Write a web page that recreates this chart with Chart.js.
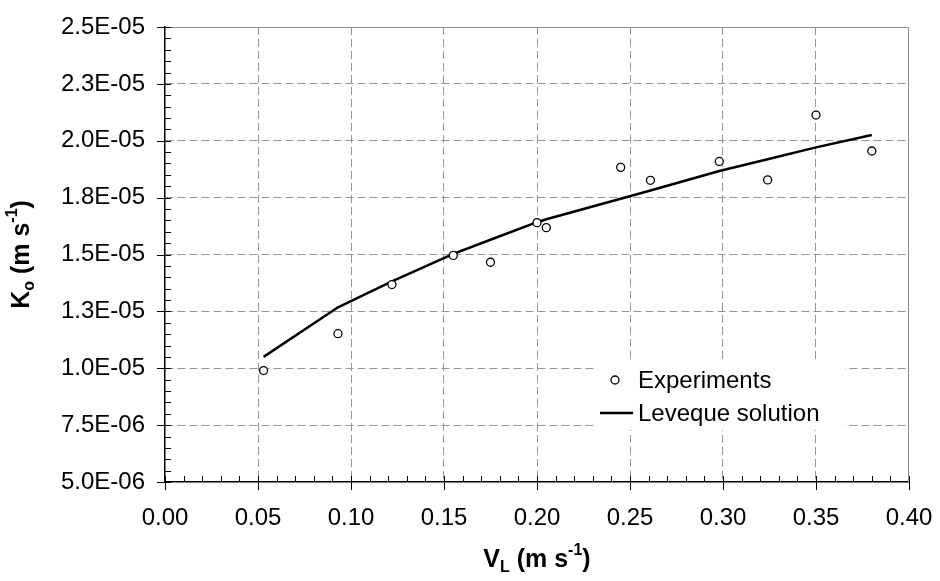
<!DOCTYPE html>
<html>
<head>
<meta charset="utf-8">
<script src="https://cdn.jsdelivr.net/npm/chart.js@4/dist/chart.umd.min.js"></script>
<style>
  body { margin: 0; background: #fff; }
  #wrap { width: 940px; height: 581px; }
</style>
</head>
<body>
<div id="wrap"><canvas id="myChart" width="940" height="581"></canvas></div>
<script>
// liquid velocity (m/s)
const velocity = [0.053, 0.093, 0.122, 0.155, 0.175, 0.200, 0.205, 0.245, 0.261, 0.298, 0.324, 0.350, 0.380];
// measured mass transfer coefficient
const koExperiments = [9.9e-6, 1.152e-5, 1.368e-5, 1.496e-5, 1.466e-5, 1.640e-5, 1.618e-5, 1.883e-5, 1.826e-5, 1.909e-5, 1.828e-5, 2.113e-5, 1.955e-5];
// Leveque solution at the same velocities
const koLeveque = [1.050e-5, 1.268e-5, 1.382e-5, 1.503e-5, 1.565e-5, 1.642e-5, 1.655e-5, 1.745e-5, 1.781e-5, 1.867e-5, 1.919e-5, 1.971e-5, 2.025e-5];

const xTicks = [0.00, 0.05, 0.10, 0.15, 0.20, 0.25, 0.30, 0.35, 0.40];
const yTicks = [5.0e-6, 7.5e-6, 1.0e-5, 1.25e-5, 1.5e-5, 1.75e-5, 2.0e-5, 2.25e-5, 2.5e-5];
const yTickLabels = ['5.0E-06', '7.5E-06', '1.0E-05', '1.3E-05', '1.5E-05', '1.8E-05', '2.0E-05', '2.3E-05', '2.5E-05'];
const legendLabels = ['Experiments', 'Leveque solution'];

const FONT = "'Liberation Sans', Arial, sans-serif";
const ctx = document.getElementById('myChart').getContext('2d');

// draws "V_L (m s^-1)" style text, centred on (cx, cy)
function drawRich(c, parts, cx, cy) {
  let width = 0;
  parts.forEach((p) => {
    c.font = `bold ${p.s ? 16 : 25}px ${FONT}`;
    width += c.measureText(p.t).width;
  });
  let x = cx - width / 2;
  c.textBaseline = 'middle';
  c.textAlign = 'left';
  parts.forEach((p) => {
    c.font = `bold ${p.s ? 16 : 25}px ${FONT}`;
    const dy = p.s === 'sub' ? 8 : (p.s === 'sup' ? -9 : 0);
    c.fillText(p.t, x, cy + dy);
    x += c.measureText(p.t).width;
  });
}

const extras = {
  id: 'extras',
  beforeDatasetsDraw(chart) {
    const { ctx: c, chartArea: a } = chart;
    // grey frame on top and right
    c.save();
    c.strokeStyle = '#8c8c8c';
    c.lineWidth = 1;
    c.beginPath();
    c.moveTo(a.left, a.top + 0.5);
    c.lineTo(a.right - 0.5, a.top + 0.5);
    c.lineTo(a.right - 0.5, a.bottom);
    c.stroke();
    c.restore();
  },
  afterDraw(chart) {
    const { ctx: c, chartArea: a, scales: { x, y } } = chart;
    c.save();
    c.strokeStyle = '#000';
    c.lineWidth = 1;
    c.beginPath();
    // major ticks cross the axis, minor ticks point inward
    for (let i = 0; i < xTicks.length; i++) {
      const px = Math.round(x.getPixelForValue(xTicks[i])) + 0.5;
      c.moveTo(px, a.bottom - 6);
      c.lineTo(px, a.bottom + 8);
      if (i < xTicks.length - 1) {
        for (let k = 1; k < 5; k++) {
          const v = xTicks[i] + (xTicks[i + 1] - xTicks[i]) * k / 5;
          const mx = Math.round(x.getPixelForValue(v)) + 0.5;
          c.moveTo(mx, a.bottom);
          c.lineTo(mx, a.bottom - 6);
        }
      }
    }
    for (let i = 0; i < yTicks.length; i++) {
      const py = Math.round(y.getPixelForValue(yTicks[i])) + 0.5;
      c.moveTo(a.left - 8, py);
      c.lineTo(a.left + 6, py);
      if (i < yTicks.length - 1) {
        for (let k = 1; k < 5; k++) {
          const v = yTicks[i] + (yTicks[i + 1] - yTicks[i]) * k / 5;
          const my = Math.round(y.getPixelForValue(v)) + 0.5;
          c.moveTo(a.left, my);
          c.lineTo(a.left + 6, my);
        }
      }
    }
    c.stroke();

    // legend
    c.fillStyle = '#fff';
    c.fillRect(597, 362, 248, 68);
    c.beginPath();
    c.arc(615, 380, 4, 0, Math.PI * 2);
    c.fillStyle = '#fff';
    c.fill();
    c.lineWidth = 1.3;
    c.stroke();
    c.beginPath();
    c.lineWidth = 2.5;
    c.moveTo(600, 413);
    c.lineTo(633, 413);
    c.stroke();
    c.fillStyle = '#000';
    c.font = `24px ${FONT}`;
    c.textBaseline = 'middle';
    c.textAlign = 'left';
    c.fillText(legendLabels[0], 638, 381);
    c.fillText(legendLabels[1], 638, 414);

    // axis titles
    drawRich(c, [{ t: 'V' }, { t: 'L', s: 'sub' }, { t: ' (m s' }, { t: '-1', s: 'sup' }, { t: ')' }],
      (a.left + a.right) / 2, 560);
    c.translate(22, (a.top + a.bottom) / 2);
    c.rotate(-Math.PI / 2);
    drawRich(c, [{ t: 'K' }, { t: 'o', s: 'sub' }, { t: ' (m s' }, { t: '-1', s: 'sup' }, { t: ')' }], 0, 0);
    c.restore();
  },
};

function edgeColor(context) {
  const n = context.chart ? context.scale.ticks.length : 0;
  if (context.index === 0 || context.index === n - 1) return 'rgba(0,0,0,0)';
  return '#959595';
}

const chart = new Chart(ctx, {
  type: 'scatter',
  data: {
    datasets: [{
      label: legendLabels[0],
      data: velocity.map((v, i) => ({ x: v, y: koExperiments[i] })),
      pointRadius: 4,
      pointBackgroundColor: '#fff',
      pointBorderColor: '#000',
      pointBorderWidth: 1.3,
      showLine: false,
    }, {
      label: legendLabels[1],
      data: velocity.map((v, i) => ({ x: v, y: koLeveque[i] })),
      showLine: true,
      borderColor: '#000',
      borderWidth: 2.5,
      pointRadius: 0,
      tension: 0,
    }],
  },
  options: {
    responsive: false,
    animation: false,
    devicePixelRatio: 1,
    layout: { padding: { left: 0, top: 27, right: 31, bottom: 0 } },
    plugins: { legend: { display: false }, tooltip: { enabled: false } },
    scales: {
      x: {
        min: 0,
        max: 0.4,
        afterFit: (s) => { s.height = 99; s.paddingLeft = 0; s.paddingRight = 0; },
        afterBuildTicks: (s) => { s.ticks = xTicks.map((v) => ({ value: v })); },
        ticks: {
          color: '#000',
          padding: 22,
          maxRotation: 0,
          font: { family: FONT, size: 24 },
          callback: (v) => Number(v).toFixed(2),
        },
        grid: { color: edgeColor, lineWidth: 1, drawTicks: false },
        border: { color: '#000', width: 1.5, dash: [8, 4] },
      },
      y: {
        min: 5e-6,
        max: 2.5e-5,
        afterFit: (s) => { s.width = 165; s.paddingTop = 0; s.paddingBottom = 0; },
        afterBuildTicks: (s) => { s.ticks = yTicks.map((v) => ({ value: v })); },
        ticks: {
          color: '#000',
          padding: 20,
          font: { family: FONT, size: 24 },
          callback: (v, i) => yTickLabels[i],
        },
        grid: { color: edgeColor, lineWidth: 1, drawTicks: false },
        border: { color: '#000', width: 1.5, dash: [8, 4] },
      },
    },
  },
  plugins: [extras],
});
</script>
</body>
</html>
